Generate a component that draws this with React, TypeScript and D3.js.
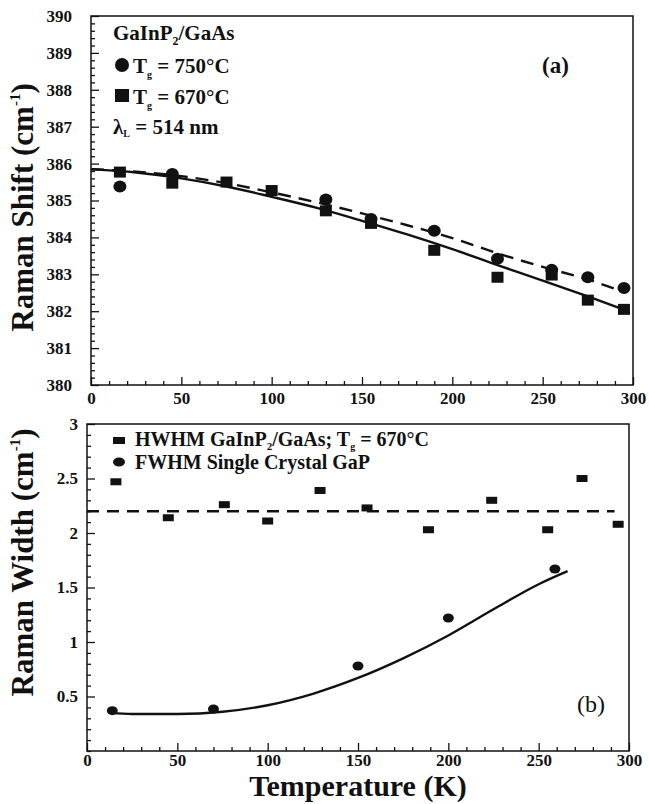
import React, { useRef, useEffect } from "react";
import * as d3 from "d3";

// panel (a): Raman shift vs temperature
const tempsTg750 = [16, 45, 130, 155, 190, 225, 255, 275, 295];
const shiftTg750 = [385.38, 385.72, 385.03, 384.5, 384.18, 383.42, 383.12, 382.92, 382.63];
const tempsTg670 = [16, 45, 75, 100, 130, 155, 190, 225, 255, 275, 295];
const shiftTg670 = [385.77, 385.47, 385.5, 385.27, 384.72, 384.38, 383.65, 382.92, 382.98, 382.3, 382.05];
const fitTemps = [0, 25, 50, 75, 100, 125, 150, 175, 200, 225, 250, 275, 296];
const fitTg670 = [385.85, 385.76, 385.6, 385.38, 385.1, 384.8, 384.45, 384.08, 383.68, 383.25, 382.83, 382.4, 382.02];
const fitTg750 = [385.85, 385.78, 385.66, 385.47, 385.22, 384.95, 384.65, 384.33, 383.98, 383.57, 383.2, 382.86, 382.5];

// panel (b): Raman width vs temperature
const tempsHwhm = [16, 45, 76, 100, 129, 155, 189, 224, 255, 274, 294];
const hwhmGaInP = [2.47, 2.14, 2.26, 2.11, 2.39, 2.23, 2.03, 2.3, 2.03, 2.5, 2.08];
const meanHwhm = 2.2;
const meanHwhmRange = [0, 292];
const tempsGaP = [14, 70, 150, 200, 259];
const fwhmGaP = [0.37, 0.385, 0.78, 1.22, 1.67];
const fitGaPTemps = [13, 25, 50, 75, 100, 125, 150, 175, 200, 225, 250, 266];
const fitGaP = [0.35, 0.34, 0.34, 0.36, 0.42, 0.525, 0.67, 0.85, 1.06, 1.3, 1.53, 1.65];

const xTicks = [0, 50, 100, 150, 200, 250, 300];
const shiftTicks = [380, 381, 382, 383, 384, 385, 386, 387, 388, 389, 390];
const widthTicks = [0.5, 1, 1.5, 2, 2.5, 3];

const FONT = "'Liberation Serif', 'Times New Roman', serif";

const App: React.FC = () => {
    const svgRef = useRef<SVGSVGElement | null>(null);

    useEffect(() => {
        if (!svgRef.current) return;
        const width = 649;
        const height = 804;

        const svg = d3.select(svgRef.current)
            .attr("width", width)
            .attr("height", height)
            .attr("viewBox", `0 0 ${width} ${height}`)
            .style("font-family", FONT);
        svg.selectAll("*").remove();

        svg.append("rect").attr("width", width).attr("height", height).attr("fill", "#fff");

        const xA = d3.scaleLinear().domain([0, 300]).range([91, 633]);
        const yA = d3.scaleLinear().domain([380, 390]).range([385, 16]);
        const xB = d3.scaleLinear().domain([0, 300]).range([87, 629]);
        const yB = d3.scaleLinear().domain([0, 3]).range([751, 424]);

        const drawAxes = (
            x: d3.ScaleLinear<number, number>,
            y: d3.ScaleLinear<number, number>,
            yMajor: number[],
            yMinorStep: number,
            yFormat: (d: number) => string,
            xPad: number,
            yPad: number
        ) => {
            const [y0, y1] = y.range();
            const [x0, x1] = x.range();
            const xMinor = d3.range(0, 301, 10).filter(d => d % 50 !== 0);
            const [d0, d1] = y.domain();
            const yMinor = d3.range(d0, d1 + 1e-9, yMinorStep)
                .map(v => +v.toFixed(3))
                .filter(v => !yMajor.some(m => Math.abs(m - v) < 1e-6));

            const style = (g: d3.Selection<SVGGElement, unknown, null, undefined>) => {
                g.attr("font-family", FONT);
                g.select(".domain").remove();
                g.selectAll("line").attr("stroke", "#111").attr("stroke-width", 1.3);
                g.selectAll("text")
                    .attr("fill", "#111")
                    .attr("font-family", FONT)
                    .attr("font-weight", "bold")
                    .attr("font-size", 17);
            };

            svg.append("g")
                .attr("transform", `translate(0,${y0})`)
                .call(d3.axisBottom(x).tickValues(xTicks).tickSize(-8).tickPadding(xPad).tickFormat(d3.format("d")))
                .call(style);
            svg.append("g")
                .attr("transform", `translate(0,${y0})`)
                .call(d3.axisBottom(x).tickValues(xMinor).tickSize(-4).tickFormat(() => ""))
                .call(style);
            svg.append("g")
                .attr("transform", `translate(${x0},0)`)
                .call(d3.axisLeft(y).tickValues(yMajor).tickSize(-8).tickPadding(yPad).tickFormat(d => yFormat(+d)))
                .call(style);
            svg.append("g")
                .attr("transform", `translate(${x0},0)`)
                .call(d3.axisLeft(y).tickValues(yMinor).tickSize(-4).tickFormat(() => ""))
                .call(style);

            svg.append("rect")
                .attr("x", x0).attr("y", y1)
                .attr("width", x1 - x0).attr("height", y0 - y1)
                .attr("fill", "none").attr("stroke", "#111").attr("stroke-width", 1.5);
        };

        drawAxes(xA, yA, shiftTicks, 0.2, d => d3.format("d")(d), 7, 19);
        drawAxes(xB, yB, widthTicks, 0.1, d => String(d), 3, 9);

        const line = d3.line<[number, number]>().curve(d3.curveMonotoneX);

        // ---- panel (a) ----
        svg.append("path")
            .attr("d", line(fitTemps.map((t, i) => [xA(t), yA(fitTg670[i])]))!)
            .attr("fill", "none").attr("stroke", "#111").attr("stroke-width", 2.4);
        svg.append("path")
            .attr("d", line(fitTemps.map((t, i) => [xA(t), yA(fitTg750[i])]))!)
            .attr("fill", "none").attr("stroke", "#111").attr("stroke-width", 2.4)
            .attr("stroke-dasharray", "13,8");

        svg.append("g").selectAll("rect")
            .data(tempsTg670.map((t, i) => [t, shiftTg670[i]]))
            .join("rect")
            .attr("x", d => xA(d[0]) - 6).attr("y", d => yA(d[1]) - 5.5)
            .attr("width", 12).attr("height", 11).attr("fill", "#111");
        svg.append("g").selectAll("ellipse")
            .data(tempsTg750.map((t, i) => [t, shiftTg750[i]]))
            .join("ellipse")
            .attr("cx", d => xA(d[0])).attr("cy", d => yA(d[1]))
            .attr("rx", 6.5).attr("ry", 6).attr("fill", "#111");

        const legA = svg.append("g").attr("font-weight", "bold").attr("fill", "#111").attr("font-size", 21);
        const t1 = legA.append("text").attr("x", 113).attr("y", 40);
        t1.append("tspan").text("GaInP");
        t1.append("tspan").attr("font-size", 12).attr("dy", 5).text("2");
        t1.append("tspan").attr("dy", -5).text("/GaAs");

        legA.append("ellipse").attr("cx", 122).attr("cy", 65).attr("rx", 7).attr("ry", 7);
        const t2 = legA.append("text").attr("x", 133).attr("y", 73);
        t2.append("tspan").text("T");
        t2.append("tspan").attr("font-size", 10).attr("dy", 5).text("g");
        t2.append("tspan").attr("dy", -5).text(" = 750°C");

        legA.append("rect").attr("x", 115).attr("y", 89).attr("width", 14).attr("height", 13);
        const t3 = legA.append("text").attr("x", 133).attr("y", 104);
        t3.append("tspan").text("T");
        t3.append("tspan").attr("font-size", 10).attr("dy", 5).text("g");
        t3.append("tspan").attr("dy", -5).text(" = 670°C");

        const t4 = legA.append("text").attr("x", 113).attr("y", 134);
        t4.append("tspan").text("λ");
        t4.append("tspan").attr("font-size", 10).attr("dy", 3).text("L");
        t4.append("tspan").attr("dy", -3).text(" = 514 nm");

        svg.append("text").attr("x", 542).attr("y", 73)
            .attr("font-weight", "bold").attr("font-size", 23).attr("fill", "#111").text("(a)");

        const yLabA = svg.append("text")
            .attr("transform", `translate(33,${(yA(390) + yA(380)) / 2 + 7}) rotate(-90)`)
            .attr("text-anchor", "middle").attr("font-weight", "bold").attr("font-size", 31).attr("fill", "#111");
        yLabA.append("tspan").text("Raman Shift (cm");
        yLabA.append("tspan").attr("font-size", 15).attr("dy", -13).text("-1");
        yLabA.append("tspan").attr("dy", 13).text(")");

        // ---- panel (b) ----
        svg.append("line")
            .attr("x1", xB(meanHwhmRange[0])).attr("x2", xB(meanHwhmRange[1]))
            .attr("y1", yB(meanHwhm)).attr("y2", yB(meanHwhm))
            .attr("stroke", "#111").attr("stroke-width", 2.4).attr("stroke-dasharray", "12,8");
        svg.append("path")
            .attr("d", line(fitGaPTemps.map((t, i) => [xB(t), yB(fitGaP[i])]))!)
            .attr("fill", "none").attr("stroke", "#111").attr("stroke-width", 2.4);

        svg.append("g").selectAll("rect")
            .data(tempsHwhm.map((t, i) => [t, hwhmGaInP[i]]))
            .join("rect")
            .attr("x", d => xB(d[0]) - 5.5).attr("y", d => yB(d[1]) - 3.5)
            .attr("width", 11).attr("height", 7).attr("fill", "#111");
        svg.append("g").selectAll("ellipse")
            .data(tempsGaP.map((t, i) => [t, fwhmGaP[i]]))
            .join("ellipse")
            .attr("cx", d => xB(d[0])).attr("cy", d => yB(d[1]))
            .attr("rx", 5.5).attr("ry", 4.5).attr("fill", "#111");

        const legB = svg.append("g").attr("font-weight", "bold").attr("fill", "#111").attr("font-size", 20);
        legB.append("rect").attr("x", 113).attr("y", 437).attr("width", 12).attr("height", 7);
        const b1 = legB.append("text").attr("x", 135).attr("y", 446);
        b1.append("tspan").text("HWHM GaInP");
        b1.append("tspan").attr("font-size", 11).attr("dy", 4).text("2");
        b1.append("tspan").attr("dy", -4).text("/GaAs; T");
        b1.append("tspan").attr("font-size", 10).attr("dy", 4).text("g");
        b1.append("tspan").attr("dy", -4).text(" = 670°C");
        legB.append("ellipse").attr("cx", 119).attr("cy", 462).attr("rx", 6).attr("ry", 4.5);
        legB.append("text").attr("x", 135).attr("y", 469).text("FWHM Single Crystal GaP");

        svg.append("text").attr("x", 577).attr("y", 712)
            .attr("font-size", 24).attr("fill", "#111").text("(b)");

        const yLabB = svg.append("text")
            .attr("transform", `translate(33,${(yB(3) + yB(0)) / 2 - 25}) rotate(-90)`)
            .attr("text-anchor", "middle").attr("font-weight", "bold").attr("font-size", 31).attr("fill", "#111");
        yLabB.append("tspan").text("Raman Width (cm");
        yLabB.append("tspan").attr("font-size", 15).attr("dy", -13).text("-1");
        yLabB.append("tspan").attr("dy", 13).text(")");

        svg.append("text").attr("x", 358).attr("y", 796)
            .attr("text-anchor", "middle").attr("font-weight", "bold").attr("font-size", 30).attr("fill", "#111")
            .text("Temperature (K)");
    }, []);

    return <svg ref={svgRef} style={{ position: "absolute", left: 0, top: 0, display: "block" }} />;
};

export default App;
